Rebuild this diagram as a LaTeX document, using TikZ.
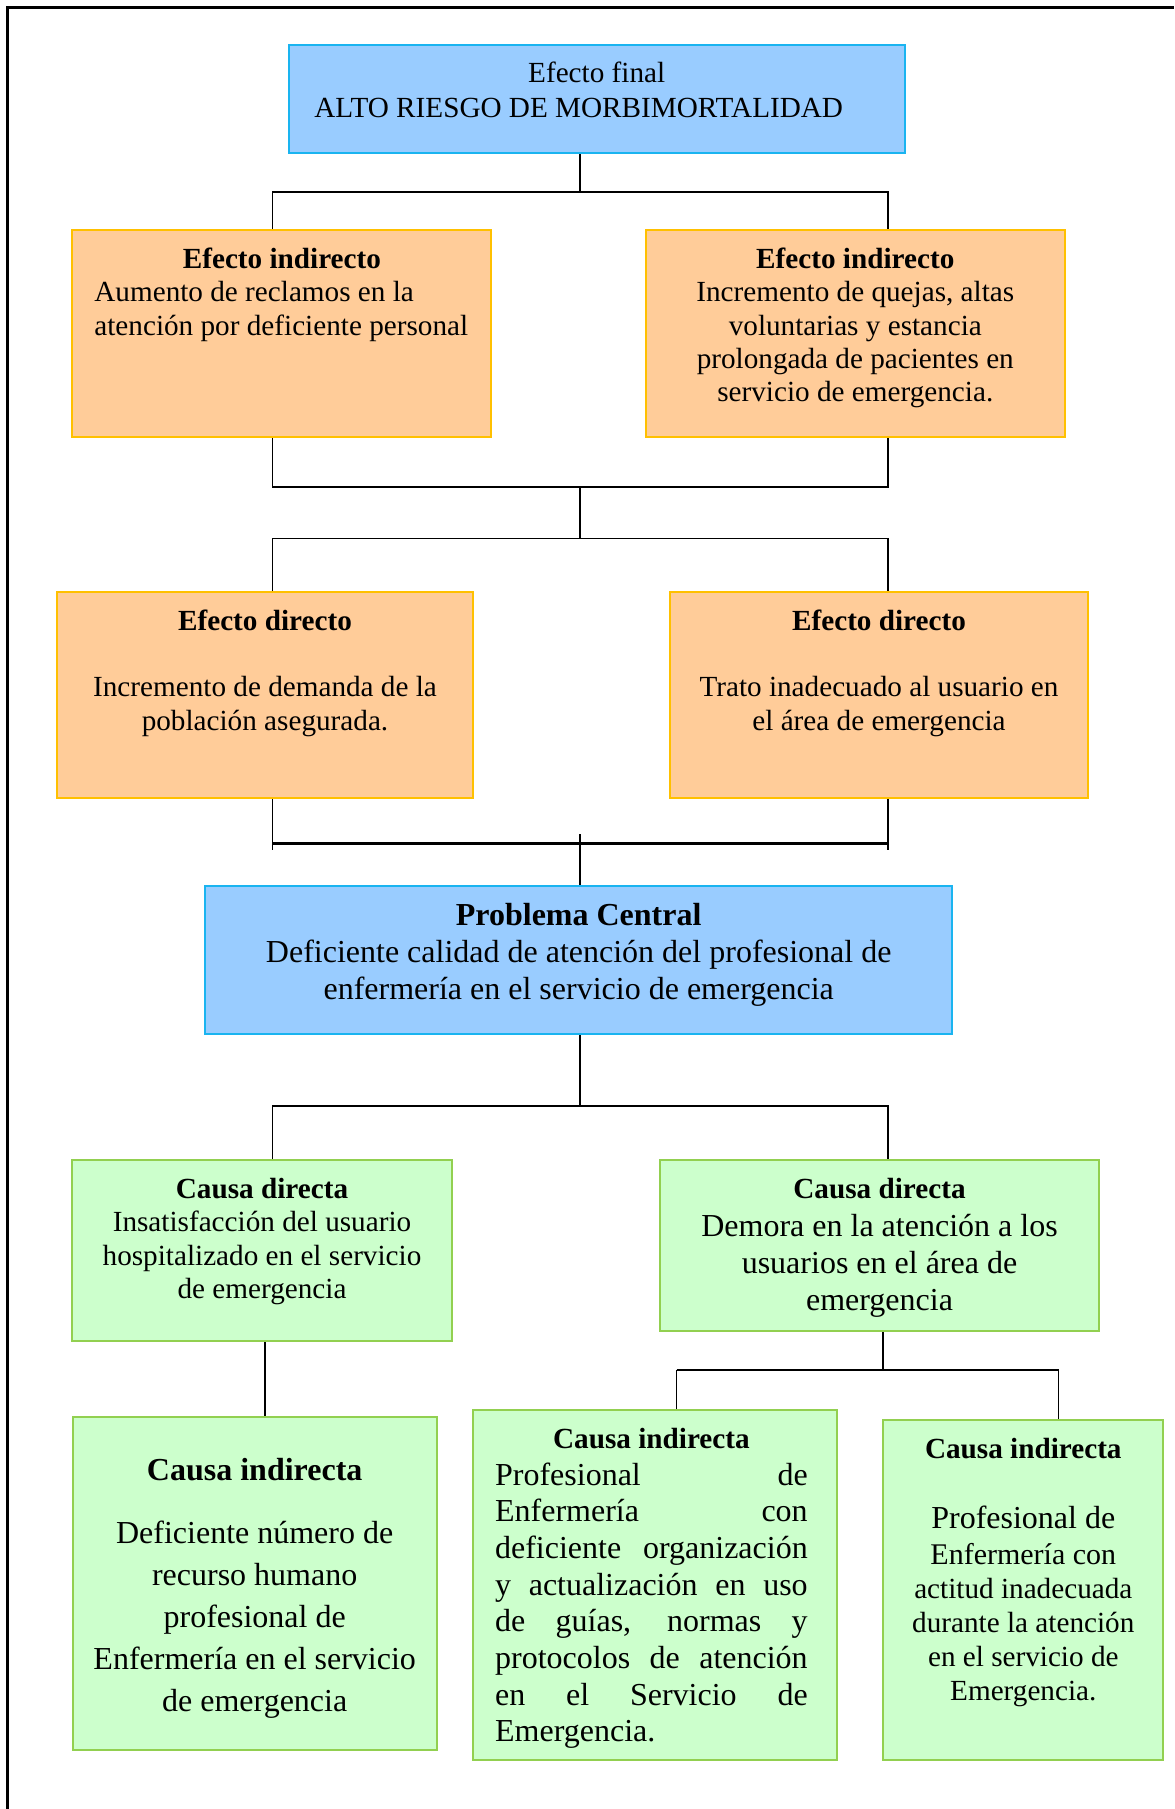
\documentclass[tikz,border=0pt]{standalone}
\usepackage{fontspec}
\setmainfont{Liberation Serif}
\usetikzlibrary{fit}

\definecolor{fondoazul}{HTML}{99CCFF}
\definecolor{bordeazul}{HTML}{1AB4F0}
\definecolor{fondonaranja}{HTML}{FFCC99}
\definecolor{bordenaranja}{HTML}{FFC000}
\definecolor{fondoverde}{HTML}{CCFFCC}
\definecolor{bordeverde}{HTML}{92D050}

\tikzset{
    caja/.style={draw, line width=1pt, inner sep=0pt},
    azul/.style={caja, draw=bordeazul, fill=fondoazul},
    naranja/.style={caja, draw=bordenaranja, fill=fondonaranja},
    verde/.style={caja, draw=bordeverde, fill=fondoverde},
    texto/.style={anchor=base, inner sep=0pt, align=flush center, text width=210pt,
        font=\fontsize{14.6}{16.7}\selectfont},
    grande/.style={font=\fontsize{16}{18.35}\selectfont},
    linea/.style={line width=0.9pt},
    lineagruesa/.style={line width=1.3pt}
}

\begin{document}
\begin{tikzpicture}[x=0.5pt, y=-0.5pt]
    \useasboundingbox (0,0) rectangle (1174,1809);
    % marco
    \draw[line width=1.3pt] (7.5,1809) -- (7.5,7.5) -- (1174,7.5);

    % efecto final
    \node[azul, fit={(289,45) (904.5,153)}] (fin) {};
    \node[texto, text width=300pt] (tfin) at (596.7,83)
        {Efecto final\\[0.8pt]ALTO RIESGO DE MORBIMORTALIDAD\hspace*{18pt}\null};

    % efectos indirectos
    \node[naranja, fit={(72,230) (491,437)}] (ei1) {};
    \node[texto, align=flush left, text width=200pt, anchor=base west] (tei1) at (94,268.3)
        {\makebox[187.5pt]{\textbf{Efecto indirecto}}\\Aumento de reclamos en la\\atención por deficiente personal};
    \node[naranja, fit={(646,230) (1065,437)}] (ei2) {};
    \node[texto] (tei2) at (855.3,268.3)
        {\textbf{Efecto indirecto}\\Incremento de quejas, altas\\voluntarias y estancia\\prolongada de pacientes en\\servicio de emergencia.};

    % efectos directos
    \node[naranja, fit={(57,592) (473,798)}] (ed1) {};
    \node[texto] (ted1) at (265,630)
        {\textbf{Efecto directo}\\[16.7pt]Incremento de demanda de la\\población asegurada.};
    \node[naranja, fit={(670,592) (1088,798)}] (ed2) {};
    \node[texto] (ted2) at (879,630)
        {\textbf{Efecto directo}\\[16.7pt]Trato inadecuado al usuario en\\el área de emergencia};

    % problema central
    \node[azul, fit={(205,886) (952.4,1034)}] (pc) {};
    \node[texto, grande, text width=360pt] (tpc) at (578.7,925.7)
        {\textbf{Problema Central}\\Deficiente calidad de atención del profesional de\\enfermería en el servicio de emergencia};

    % causas directas
    \node[verde, fit={(72,1160) (452,1341)}] (cd1) {};
    \node[texto] (tcd1) at (262,1198.3)
        {\textbf{Causa directa}\\Insatisfacción del usuario\\hospitalizado en el servicio\\de emergencia};
    \node[verde, fit={(660,1160) (1099,1331)}] (cd2) {};
    \node[texto, grande] (tcd2) at (879.5,1198.3)
        {{\fontsize{14.6}{16.7}\selectfont\textbf{Causa directa}}\\[0.85pt]Demora en la atención a los\\usuarios en el área de\\emergencia};

    % causas indirectas
    \node[verde, fit={(73,1417) (437,1750)}] (ci1) {};
    \node[texto, font=\fontsize{16}{20.95}\selectfont] (tci1) at (254.7,1480)
        {\textbf{Causa indirecta}\\[11pt]Deficiente número de\\recurso humano\\profesional de\\Enfermería en el servicio\\de emergencia};
    \node[verde, fit={(473,1410) (837,1760)}] (ci2) {};
    \node[texto, grande, align=justify, text width=156.3pt] (tci2) at (651.4,1448.3)
        {\centerline{\fontsize{14.6}{16.7}\selectfont\bfseries Causa indirecta}
        \tolerance=10000\noindent Profesional de\linebreak Enfermería con\linebreak deficiente organización\linebreak
        y actualización en uso\linebreak de guías, normas y\linebreak protocolos de atención\linebreak
        en el Servicio de\linebreak Emergencia.};
    \node[verde, fit={(883,1420) (1163,1760)}] (ci3) {};
    \node[texto, font=\fontsize{14.6}{17}\selectfont] (tci3) at (1023.3,1458.3)
        {\textbf{Causa indirecta}\\[18pt]{\fontsize{16}{17}\selectfont Profesional de}\\[1pt]%
        {\fontsize{15}{17}\selectfont Enfermería con}\\actitud inadecuada\\durante la atención\\en el servicio de\\Emergencia.};

    % conectores
    \coordinate (xl) at (272.5,0);
    \coordinate (xr) at (888,0);
    \coordinate (h1) at (580.3,192.3);
    \coordinate (h2) at (580.3,486.6);
    \coordinate (h3) at (580.3,538.5);
    \coordinate (h4) at (580.3,843.3);
    \coordinate (h5) at (580.3,1106);
    \coordinate (fl) at (272.5,850);
    \coordinate (fr) at (888,850);
    \coordinate (fm) at (580.3,834);
    \draw[linea] (fin.south -| h1) -- (h1);
    \draw[linea] (ei1.north -| xl) |- (h1) -| (ei2.north -| xr);
    \draw[linea] (ei1.south -| xl) |- (h2) -| (ei2.south -| xr);
    \draw[linea] (h2) -- (h3);
    \draw[linea] (ed1.north -| xl) |- (h3) -| (ed2.north -| xr);
    \draw[linea] (ed1.south -| xl) -- (fl);
    \draw[linea] (ed2.south -| xr) -- (fr);
    \draw[lineagruesa] (xl |- h4) -- (xr |- h4);
    \draw[linea] (fm) -- (pc.north -| fm);
    \draw[linea] (pc.south -| h5) -- (h5);
    \draw[linea] (cd1.north -| xl) |- (h5) -| (cd2.north -| xr);

    \coordinate (xc) at (265,0);
    \coordinate (xa) at (676.5,0);
    \coordinate (xb) at (1058.5,0);
    \coordinate (h6) at (883,1370);
    \draw[linea] (cd1.south -| xc) -- (ci1.north -| xc);
    \draw[linea] (cd2.south -| h6) -- (h6);
    \draw[lineagruesa] (xa |- h6) -- (xb |- h6);
    \draw[linea] (ci2.north -| xa) -- (xa |- h6);
    \draw[linea] (ci3.north -| xb) -- (xb |- h6);
\end{tikzpicture}
\end{document}
